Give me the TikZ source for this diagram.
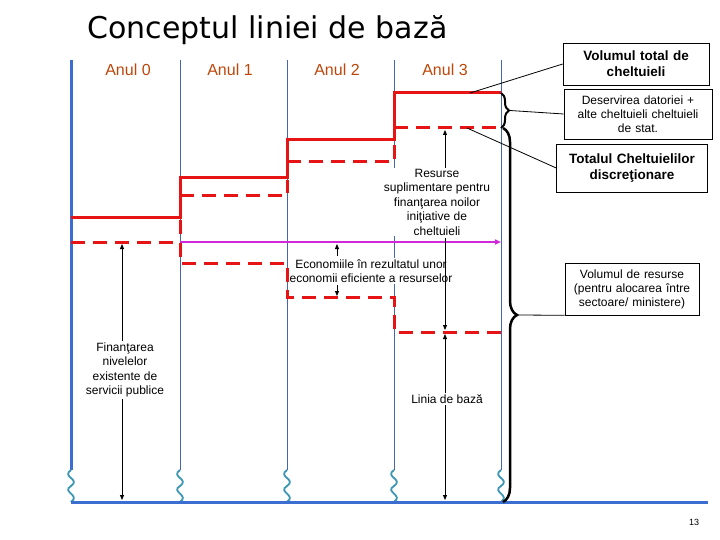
\documentclass[tikz,border=0pt]{standalone}
\usepackage{fontspec}
\setmainfont{Liberation Sans}
\newfontfamily\titlefont{DejaVu Sans}
\usepackage{xcolor}
\usetikzlibrary{arrows.meta,positioning,calc,decorations.pathreplacing}
\definecolor{axisblue}{RGB}{60,110,210}
\definecolor{thinblue}{RGB}{70,100,180}
\definecolor{lineRed}{RGB}{230,20,20}
\definecolor{yearcol}{RGB}{190,70,10}
\definecolor{wavecol}{RGB}{60,150,180}
\definecolor{magent}{RGB}{210,40,220}
\tikzset{
  yearlbl/.style={font=\fontsize{16}{18}\selectfont, text=yearcol},
  smalltxt/.style={font=\fontsize{12}{14.5}\selectfont, align=center, fill=white, inner sep=1pt},
  infobox/.style={draw, semithick, align=center, font=\fontsize{12}{14}\selectfont, inner sep=3pt},
  boldbox/.style={infobox, font=\bfseries\fontsize{13.5}{16}\selectfont},
  redsolid/.style={lineRed, line width=3pt},
  reddash/.style={lineRed, line width=3pt, dash pattern=on 14pt off 8pt},
  dim/.style={thick, -{Triangle[length=5pt,width=4pt]}},
  pointer/.style={thick}
}
\begin{document}
\begin{tikzpicture}[x=1pt,y=-1pt]
    \useasboundingbox (0,0) rectangle (720,540);

    % Title
    \node[anchor=west, font=\titlefont\fontsize{30}{34}\selectfont] (title) at (84,30) {Conceptul liniei de bază};

    % Year labels
    \foreach \x/\n in {128/0, 230/1, 337/2, 445/3}
        \node[yearlbl] (anul\n) at (\x,70) {Anul \n};

    % Year separators and waves
    \foreach \x in {180,287,394,501} {
        \draw[thinblue] (\x,60) -- (\x,470);
    }
    \foreach \x in {71,180,287,394,501} {
        \draw[wavecol, line width=1.8pt] (\x,470) .. controls (\x-10,477) and (\x+10,479) .. (\x,486)
            .. controls (\x-10,492) and (\x+10,495) .. (\x,502);
    }

    % Axes
    \draw[axisblue, line width=3pt] (71,60) -- (71,470);
    \draw[axisblue, line width=3pt] (71,502) -- (708,502);

    % Total spending (solid)
    \draw[redsolid] (71,218) -- (180,218) -- (180,178) -- (287,178) -- (287,140)
        -- (394,140) -- (394,93) -- (501,93);

    % Discretionary spending (dashed)
    \draw[reddash] (180,196) -- (287,196) -- (287,180);
    \draw[reddash] (287,162) -- (394,162) -- (394,142);
    \draw[reddash] (394,128) -- (501,128);

    % Baseline (dashed)
    \draw[reddash] (71,242) -- (180,242) -- (180,263) -- (287,263) -- (287,297)
        -- (394,297) -- (394,332) -- (501,332);
    \draw[reddash] (180,220) -- (180,242);

    % New initiatives level
    \draw[magent, line width=2pt, -{Triangle[length=6pt,width=5pt]}] (180,242) -- (501,242);

    % Existing services
    \node[smalltxt] (existing) at (125,370) {Finanţarea\\nivelelor\\existente de\\servicii publice};
    \draw[dim] (existing.north -| 122,0) -- (122,244);
    \draw[dim] (existing.south -| 122,0) -- (122,500);

    % Savings
    \node[smalltxt] (savings) at (371,271) {Economiile în rezultatul unor\\economii eficiente a resurselor};
    \draw[dim] (337,256) -- (337,244);
    \draw[dim] (337,285) -- (337,296);

    % Additional resources
    \node[smalltxt] (extra) at (437,202) {Resurse\\suplimentare pentru\\finanţarea noilor\\iniţiative de\\cheltuieli};
    \draw[dim] (445,168) -- (445,130);
    \draw[dim] (445,238) -- (445,330);

    % Baseline
    \node[smalltxt] (baseline) at (447,399) {Linia de bază};
    \draw[dim] (baseline.north -| 445,0) -- (445,334);
    \draw[dim] (baseline.south -| 445,0) -- (445,500);

    % Braces
    \draw[decorate, decoration={brace, amplitude=8pt}, line width=2pt] (501,93) -- (501,128)
        coordinate[pos=0.5, xshift=9pt] (debttip);
    \draw[decorate, decoration={brace, amplitude=14pt}, line width=2.5pt] (503,128) -- (503,502)
        coordinate[pos=0.5, xshift=15pt] (restip);

    % Info boxes
    \node[boldbox, text width=140pt, minimum height=42pt] (total) at (636,64) {Volumul total de\\cheltuieli};
    \node[infobox, text width=142pt, minimum height=50pt] (debt) at (638,114) {Deservirea datoriei +\\alte cheltuieli cheltuieli\\de stat.};
    \node[boldbox, text width=145pt, minimum height=48pt] (discr) at (632,168) {Totalul Cheltuielilor\\discreţionare};
    \node[infobox, text width=128pt, minimum height=52pt] (volres) at (632,289) {Volumul  de resurse\\(pentru alocarea între\\sectoare/ ministere)};

    \draw[pointer] (470,93) -- (total.west);
    \draw[pointer] (debttip) -- (debt.west);
    \draw[pointer] (467,128) -- (discr.west);
    \draw[pointer] (restip) -- (volres.south west);

    % Page number
    \node[font=\fontsize{9}{10}\selectfont] (pagenum) at (694,522) {13};
\end{tikzpicture}
\end{document}
